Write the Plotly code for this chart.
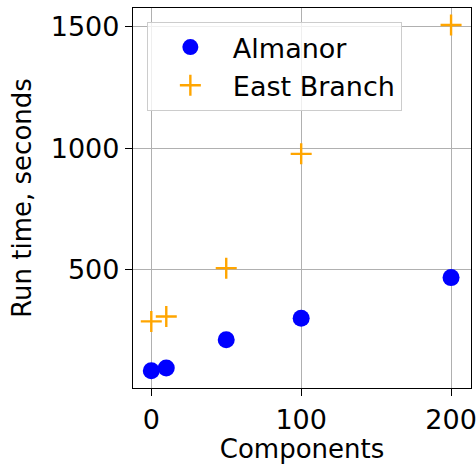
import plotly.graph_objects as go

components = [0, 10, 50, 100, 200]
almanor = [85, 96, 212, 301, 468]
east_branch = [288, 308, 507, 977, 1507]

x_ticks = [0, 100, 200]
y_ticks = [500, 1000, 1500]

FONT = "DejaVu Sans"

fig = go.Figure()
fig.add_trace(go.Scatter(
    x=components, y=almanor, mode="markers", name="Almanor",
    marker=dict(symbol="circle", size=17, color="#0000FF", line=dict(width=0)),
))
fig.add_trace(go.Scatter(
    x=components, y=east_branch, mode="markers", name="East Branch",
    marker=dict(symbol="cross-thin-open", size=15, color="#FFA500",
                line=dict(width=2.4, color="#FFA500")),
))

axis_common = dict(
    showline=True, linecolor="black", linewidth=1.3, mirror=True,
    ticks="outside", ticklen=7, tickwidth=1.3, tickcolor="black",
    showgrid=True, gridcolor="#b0b0b0", gridwidth=1,
    zeroline=False, ticklabeloverflow="allow",
    tickfont=dict(family=FONT, size=27, color="black"),
)

fig.update_layout(
    width=476, height=464,
    margin=dict(l=133, r=5, t=8, b=76, autoexpand=False),
    paper_bgcolor="white", plot_bgcolor="white",
    font=dict(family=FONT, size=27, color="black"),
    xaxis=dict(range=[-12.2, 213.3], tickvals=x_ticks,
               title=dict(text="Components", font=dict(family=FONT, size=26), standoff=3),
               **axis_common),
    yaxis=dict(range=[14, 1577], tickvals=y_ticks,
               title=dict(text="Run time, seconds", font=dict(family=FONT, size=26), standoff=11),
               **axis_common),
    legend=dict(
        x=0.041, y=0.963, xanchor="left", yanchor="top",
        bgcolor="rgba(255,255,255,0.8)", bordercolor="#cccccc", borderwidth=1,
        font=dict(family=FONT, size=27, color="black"),
        itemsizing="trace", itemwidth=75,
    ),
)

fig.write_html("out.html")
